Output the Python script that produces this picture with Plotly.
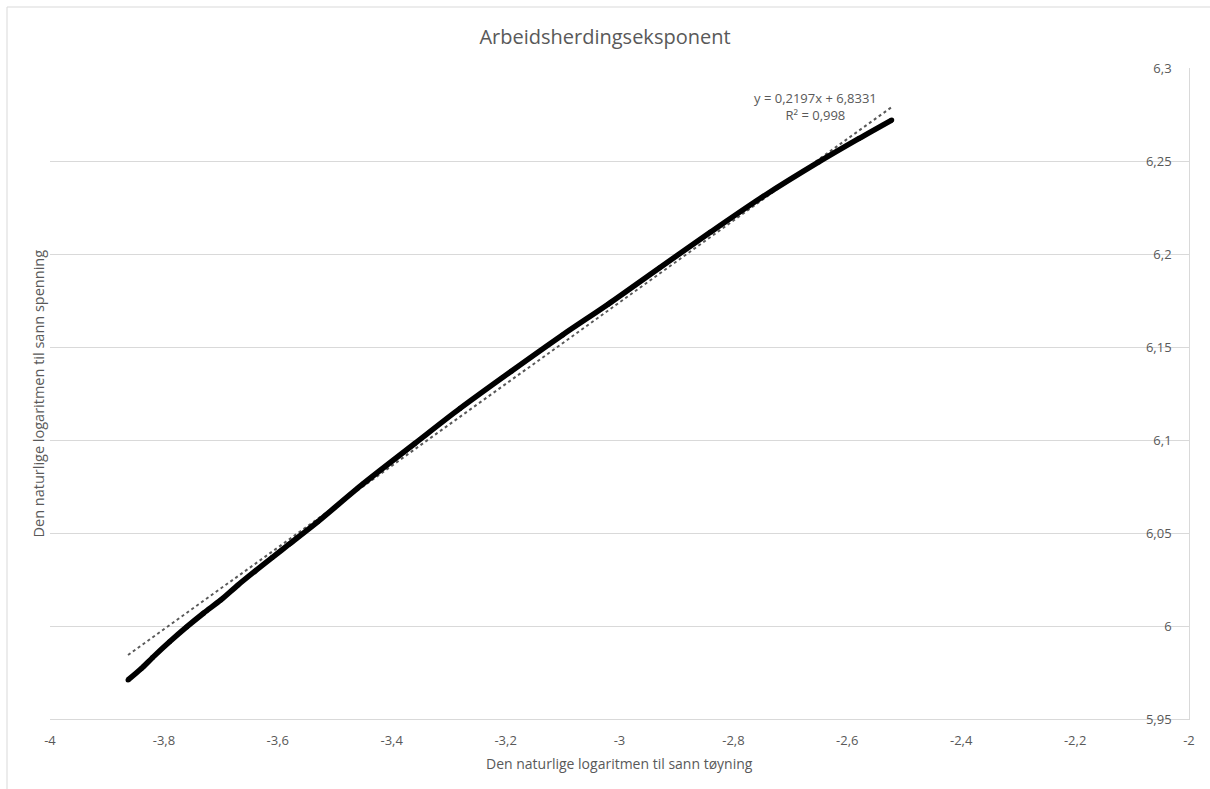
import plotly.graph_objects as go

# Data
x_vals = [-3.863, -3.84, -3.82, -3.79, -3.76, -3.73, -3.70, -3.67, -3.64, -3.61,
          -3.58, -3.53, -3.45, -3.36, -3.28, -3.19, -3.10, -3.02, -2.93, -2.84,
          -2.75, -2.65, -2.58, -2.522]
y_vals = [5.971, 5.977, 5.983, 5.9915, 5.9995, 6.007, 6.014, 6.022, 6.0295, 6.0368,
          6.0440, 6.056, 6.0765, 6.098, 6.117, 6.137, 6.1565, 6.173, 6.1925, 6.2118,
          6.2305, 6.2495, 6.2620, 6.272]

trend_slope = 0.2197
trend_intercept = 6.8331
trend_text = "y = 0,2197x + 6,8331<br>R² = 0,998"

x_ticks = [-4, -3.8, -3.6, -3.4, -3.2, -3, -2.8, -2.6, -2.4, -2.2, -2]
x_ticktext = ["-4", "-3,8", "-3,6", "-3,4", "-3,2", "-3", "-2,8", "-2,6", "-2,4", "-2,2", "-2"]
y_ticks = [5.95, 6.0, 6.05, 6.1, 6.15, 6.2, 6.25, 6.3]
y_ticktext = ["5,95", "6", "6,05", "6,1", "6,15", "6,2", "6,25", "6,3"]

title = "Arbeidsherdingseksponent"
x_title = "Den naturlige logaritmen til sann tøyning"
y_title = "Den naturlige logaritmen til sann spenning"

FONT = "Open Sans"
GREY = "#595959"
GRID = "#d9d9d9"

trend_x = [min(x_vals), max(x_vals)]
trend_y = [trend_slope * v + trend_intercept for v in trend_x]

fig = go.Figure()
fig.add_trace(go.Scatter(
    x=trend_x, y=trend_y, mode="lines",
    line=dict(color=GREY, width=2, dash="dot"),
    showlegend=False))
fig.add_trace(go.Scatter(
    x=x_vals, y=y_vals, mode="lines+markers",
    line=dict(color="black", width=5.5, shape="spline", smoothing=0.8),
    marker=dict(color="black", size=5),
    showlegend=False, hoverinfo="x+y"))

W, H = 1210, 789
L, R, T, B = 50, 21, 68, 70
pw, ph = W - L - R, H - T - B

def px_x(p):
    return (p - L) / pw

def px_y(p):
    return (H - B - p) / ph

fig.update_layout(
    width=W, height=H,
    margin=dict(l=L, r=R, t=T, b=B),
    paper_bgcolor="white", plot_bgcolor="white",
    separators=", ",
    font=dict(family=FONT, color=GREY, size=13),
    title=dict(text=title, x=0.5, xanchor="center", y=1 - 37 / H, yanchor="middle",
               font=dict(family=FONT, size=20, color=GREY)),
    xaxis=dict(range=[-4, -2], tickvals=x_ticks, ticktext=x_ticktext,
               showgrid=False, zeroline=False, showline=True, linecolor=GRID, linewidth=1,
               ticks="", ticklabeloverflow="allow", ticklabelstandoff=9,
               tickfont=dict(size=13, color=GREY)),
    yaxis=dict(range=[5.95, 6.3], tickvals=y_ticks, ticktext=y_ticktext,
               side="right", ticklabelposition="inside", ticklabeloverflow="allow",
               ticklabelstandoff=17,
               showgrid=True, gridcolor=GRID, gridwidth=1, zeroline=False,
               showline=True, linecolor=GRID, linewidth=1,
               ticks="", tickfont=dict(size=13, color=GREY)),
    annotations=[
        dict(text=trend_text, x=px_x(815), y=px_y(106), xref="paper", yref="paper",
             showarrow=False, xanchor="center", yanchor="middle", align="center",
             font=dict(family=FONT, size=13, color=GREY)),
        dict(text=x_title, x=0.5, y=px_y(763), xref="paper", yref="paper",
             showarrow=False, xanchor="center", yanchor="middle",
             font=dict(family=FONT, size=14, color=GREY)),
        dict(text=y_title, x=px_x(38), y=0.5, xref="paper", yref="paper",
             showarrow=False, xanchor="center", yanchor="middle", textangle=-90,
             font=dict(family=FONT, size=14.5, color=GREY)),
    ],
    shapes=[dict(type="rect", xref="paper", yref="paper",
                 x0=px_x(7), x1=px_x(1216), y0=px_y(795), y1=px_y(7),
                 line=dict(color=GRID, width=1), fillcolor="rgba(0,0,0,0)", layer="below")],
)

fig.write_html("out.html", config={"displayModeBar": False},
               post_script="document.body.style.margin='0';document.body.style.overflow='hidden';")
